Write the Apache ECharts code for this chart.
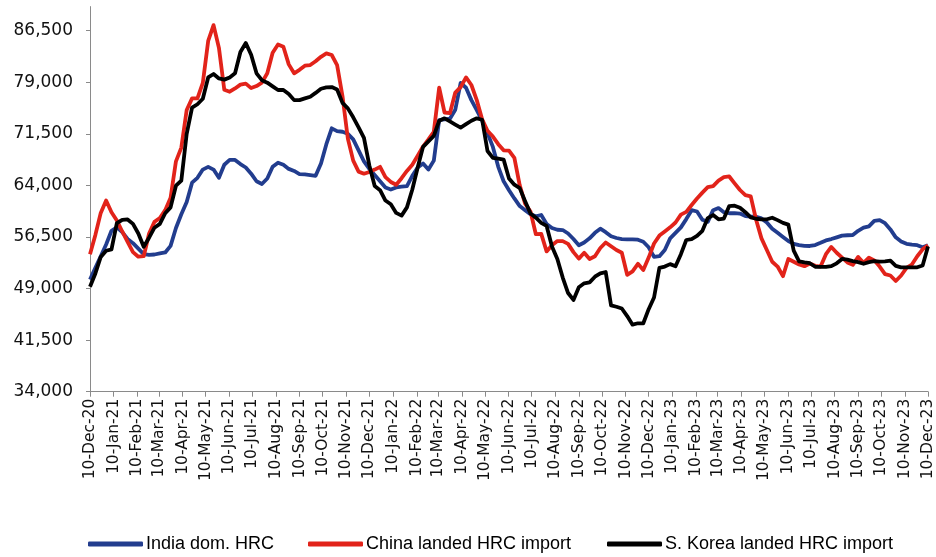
<!DOCTYPE html>
<html>
<head>
<meta charset="utf-8">
<script src="https://cdn.jsdelivr.net/npm/echarts@6/dist/echarts.min.js"></script>
<style>
html,body{margin:0;padding:0;background:#fff;}
#c{width:936px;height:557px;}
</style>
</head>
<body>
<div id="c"></div>
<script>
// Weekly series, first value on 10-Dec-20, last value on 10-Dec-23
const startDate = '2020-12-10';
const endDate = '2023-12-10';
const seriesNames = ['India dom. HRC', 'China landed HRC import', 'S. Korea landed HRC import'];

const indiaHRC = [
50300,52000,53700,55400,57400,57900,57200,56200,55600,54800,
54000,53900,53950,54100,54250,55200,57800,59800,61600,64400,
65100,66300,66700,66300,65100,67000,67700,67700,67100,66600,
65700,64600,64200,65000,66700,67300,67000,66400,66100,65650,
65600,65500,65400,67200,70000,72300,71900,71800,71500,70700,
69100,67500,66400,65500,64600,63700,63400,63700,63810,63900,
65400,66600,67200,66300,67600,73500,73600,73700,75000,78900,
78200,76400,74950,73400,71600,69600,66700,64600,63300,62100,
61000,60400,59800,59500,59700,58400,57800,57550,57510,57000,
56200,55300,55700,56300,57100,57700,57200,56600,56350,56200,
56160,56160,56100,55800,55000,53600,53700,54600,56300,57100,
57900,59100,60400,60200,59000,58700,60400,60700,60100,59950,
59970,59900,59550,59450,59450,59200,58600,57700,57100,56500,
55900,55500,55320,55200,55190,55330,55650,56000,56200,56450,
56700,56750,56780,57400,57850,58050,58850,58950,58500,57600,
56450,55850,55500,55380,55300,55000,55300
];

const chinaLanded = [
54000,56800,60000,61800,60100,58900,57300,55800,54300,53630,
53700,57000,58700,59250,60400,62200,67500,69500,74960,76660,
76660,78900,85000,87300,84000,77900,77620,78100,78650,78800,
78150,78450,78950,80300,83300,84500,84170,81600,80300,80800,
81400,81500,82050,82700,83200,82960,81500,77000,70800,67600,
66000,65700,65950,66300,66700,65200,64500,64100,65050,66100,
67000,68300,69650,70700,71800,78200,74600,74500,77500,78300,
79700,78600,76400,73600,71950,71100,70000,69100,69050,68000,
64000,61350,60200,56900,56950,54400,55300,55900,55900,55500,
54300,53350,54200,53300,53700,54900,55700,55150,54600,54200,
51000,51500,52600,51700,53500,55550,56700,57300,57900,58600,
59750,60150,61150,62100,62950,63750,63900,64700,65200,65300,
64300,63330,62580,62400,59000,56300,54600,52900,52200,50800,
53300,52900,52500,52250,52650,52300,52200,54000,55050,54200,
53500,52800,52450,53600,52750,53500,53100,52200,51100,50900,
50100,50900,52000,52500,53700,54700,55300
];

const koreaLanded = [
49270,51200,53600,54500,54700,58500,59000,59050,58400,57000,
55080,56400,57850,58400,59950,60800,63950,64700,71500,75300,
75800,76600,79700,80200,79550,79380,79700,80300,83400,84700,
83000,80300,79300,78940,78400,77870,77870,77300,76400,76400,
76650,76900,77450,78050,78250,78300,77950,76000,75200,73900,
72450,70900,66900,63900,63300,61800,61250,60000,59600,60800,
63400,66600,69600,70400,71200,73400,73750,73300,72850,72400,
72900,73400,73750,73550,69000,68000,67900,67750,65000,64100,
63600,61700,59900,59300,58550,58100,55100,53300,50600,48350,
47350,49200,49760,49900,50720,51220,51400,46550,46350,46100,
45000,43750,43950,43950,46000,47700,52000,52200,52550,52250,
54000,56060,56200,56650,57400,59250,59690,59070,59180,61000,
61050,60750,60100,59350,59150,59070,59070,59300,58950,58550,
58300,54500,52950,52800,52680,52170,52150,52150,52250,52670,
53300,53200,53000,52850,52600,52850,53000,52900,52950,53050,
52300,52090,52090,52090,52090,52350,55100
];

const xTickLabels = ['10-Dec-20','10-Jan-21','10-Feb-21','10-Mar-21','10-Apr-21','10-May-21','10-Jun-21','10-Jul-21','10-Aug-21','10-Sep-21','10-Oct-21','10-Nov-21','10-Dec-21','10-Jan-22','10-Feb-22','10-Mar-22','10-Apr-22','10-May-22','10-Jun-22','10-Jul-22','10-Aug-22','10-Sep-22','10-Oct-22','10-Nov-22','10-Dec-22','10-Jan-23','10-Feb-23','10-Mar-23','10-Apr-23','10-May-23','10-Jun-23','10-Jul-23','10-Aug-23','10-Sep-23','10-Oct-23','10-Nov-23','10-Dec-23'];
const yTickValues = [34000,41500,49000,56500,64000,71500,79000,86500];

const MONTHS = ['Jan','Feb','Mar','Apr','May','Jun','Jul','Aug','Sep','Oct','Nov','Dec'];
function parseLabel(s){
  const p = s.split('-');
  return Date.UTC(2000 + parseInt(p[2],10), MONTHS.indexOf(p[1]), parseInt(p[0],10));
}
function fmtTs(ts){
  const d = new Date(ts);
  const yy = String(d.getUTCFullYear() % 100).padStart(2,'0');
  return d.getUTCDate() + '-' + MONTHS[d.getUTCMonth()] + '-' + yy;
}
const xTickTs = xTickLabels.map(parseLabel);
const t0 = Date.parse(startDate + 'T00:00:00Z');
const t1 = Date.parse(endDate + 'T00:00:00Z');
function toPairs(arr){
  const step = (t1 - t0) / (arr.length - 1);
  return arr.map((v,i)=>[t0 + i*step, v]);
}

const colors = ['#223D8E', '#E2231A', '#000000'];
const dataSets = [indiaHRC, chinaLanded, koreaLanded];
const legendLefts = [83, 303, 602];

const legendFont = {fontFamily: '"Liberation Sans", Arial, sans-serif', fontSize: 18, color: '#000', padding:[0,0,0,-2]};

const chart = echarts.init(document.getElementById('c'), null, {renderer:'canvas'});
chart.setOption({
  animation: false,
  backgroundColor: '#ffffff',
  grid: {left: 90, right: 8, top: 6.6, bottom: 165.3, containLabel: false},
  legend: seriesNames.map((n, k) => ({
    left: legendLefts[k], top: 530,
    itemWidth: 55, itemHeight: 5,
    icon: 'roundRect',
    textStyle: legendFont,
    data: [n]
  })),
  xAxis: {
    type: 'value',
    min: xTickTs[0], max: xTickTs[xTickTs.length-1],
    splitLine: {show: false},
    axisLine: {lineStyle: {color: '#8a8a8a', width: 1}},
    axisTick: {show: true, customValues: xTickTs, length: 5, lineStyle: {color: '#8a8a8a'}},
    axisLabel: {
      customValues: xTickTs, rotate: 90, margin: 7,
      fontFamily: '"DejaVu Sans", sans-serif', fontSize: 15.5, color: '#111',
      formatter: v => fmtTs(v)
    }
  },
  yAxis: {
    type: 'value',
    min: 34000, max: 90000,
    splitLine: {show: false},
    axisLine: {show: true, lineStyle: {color: '#8a8a8a', width: 1}},
    axisTick: {show: true, customValues: yTickValues, length: 4, lineStyle: {color: '#8a8a8a'}},
    axisLabel: {
      customValues: yTickValues, margin: 17,
      fontFamily: '"DejaVu Sans", sans-serif', fontSize: 17, color: '#111',
      formatter: v => v.toLocaleString('en-US')
    }
  },
  series: dataSets.map((arr, k) => ({
    name: seriesNames[k],
    type: 'line',
    data: toPairs(arr),
    showSymbol: false,
    symbol: 'none',
    color: colors[k],
    lineStyle: {color: colors[k], width: 3.8, join: 'round'},
    z: 2 + k
  }))
});
</script>
</body>
</html>
